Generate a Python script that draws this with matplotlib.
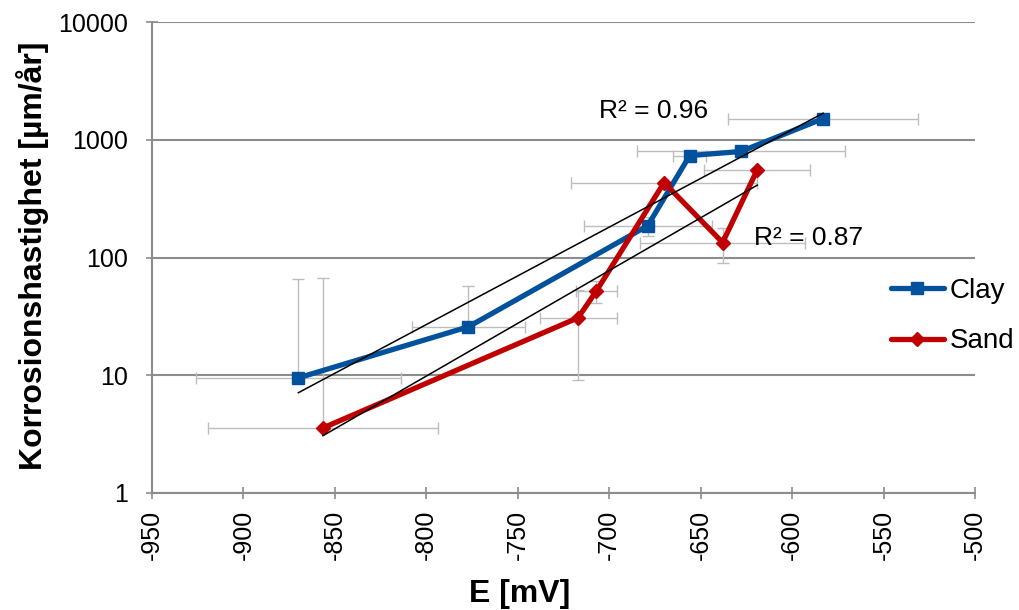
import numpy as np
import matplotlib
matplotlib.use("Agg")
import matplotlib.pyplot as plt
from matplotlib.lines import Line2D

# ---- data ----
clay_E = [-870, -777, -679, -656, -628, -583]
clay_rate = [9.5, 25.8, 186, 734, 795, 1513]
clay_xerr = [56, 31, 35, 9, 57, 52]
clay_yerr_lo = [0, 0, 33, 0, 0, 0]
clay_yerr_hi = [56, 31, 33, 0, 0, 0]

sand_E = [-856.5, -717, -707, -670, -638, -619]
sand_rate = [3.57, 30.8, 52, 433, 134, 558]
sand_xerr = [63, 21, 11, 51, 45, 29]
sand_yerr_lo = [0, 21.7, 11, 0, 45, 0]
sand_yerr_hi = [64, 21.7, 11, 0, 45, 0]

x_ticks = [-950, -900, -850, -800, -750, -700, -650, -600, -550, -500]
y_ticks = [1, 10, 100, 1000, 10000]
clay_r2_label = "R² = 0.96"
sand_r2_label = "R² = 0.87"

# ---- style ----
plt.rcParams['font.family'] = ['Liberation Sans', 'DejaVu Sans']
CLAY = '#02519c'
SAND = '#c00000'
GRID = '#8c8c8c'
ERR = '#bdbdbd'

fig = plt.figure(figsize=(10.19, 6.10), dpi=100)
ax = fig.add_axes([152/1019, 1-493/610, (975-152)/1019, (493-22)/610])
ax.set_yscale('log')
ax.set_xlim(-950, -500)
ax.set_ylim(1, 10000)

for E, r, xe, lo, hi in [(clay_E, clay_rate, clay_xerr, clay_yerr_lo, clay_yerr_hi),
                         (sand_E, sand_rate, sand_xerr, sand_yerr_lo, sand_yerr_hi)]:
    ax.errorbar(E, r, xerr=xe, yerr=[lo, hi], fmt='none', ecolor=ERR,
                elinewidth=1.0, capsize=4, capthick=1.0, zorder=2)

ax.plot(clay_E, clay_rate, color=CLAY, lw=3.8, marker='s', ms=9,
        solid_capstyle='round', zorder=3)
ax.plot(sand_E, sand_rate, color=SAND, lw=3.8, marker='D', ms=7,
        solid_capstyle='round', zorder=3)

# exponential trendlines (fit on log of rate)
for E, r in [(clay_E, clay_rate), (sand_E, sand_rate)]:
    E = np.array(E, dtype=float)
    b, a = np.polyfit(E, np.log(np.array(r, dtype=float)), 1)
    xs = np.linspace(E.min(), E.max(), 50)
    ax.plot(xs, np.exp(a + b * xs), color='black', lw=1.1, zorder=4)

ax.text(-676, 1771, clay_r2_label, fontsize=19, ha='center', va='center', zorder=5)
ax.text(-591, 147, sand_r2_label, fontsize=19, ha='center', va='center', zorder=5)

ax.set_xticks(x_ticks)
ax.set_xticklabels([str(t) for t in x_ticks], rotation=90, fontsize=18)
ax.set_yticks(y_ticks)
ax.set_yticklabels([str(t) for t in y_ticks], fontsize=18)
ax.yaxis.set_minor_locator(matplotlib.ticker.NullLocator())
ax.tick_params(axis='both', direction='inout', length=8, width=1.2, color=GRID)
ax.tick_params(axis='x', pad=8)
ax.tick_params(axis='y', pad=13)

ax.grid(axis='y', which='major', color=GRID, lw=1.5, zorder=0)
ax.set_axisbelow(True)
for s in ['top', 'right']:
    ax.spines[s].set_visible(False)
for s in ['left', 'bottom']:
    ax.spines[s].set_color(GRID)
    ax.spines[s].set_linewidth(1.5)

ax.set_xlabel('E [mV]', fontsize=23, fontweight='bold', labelpad=4)
ax.set_ylabel('Korrosionshastighet [µm/år]', fontsize=23, fontweight='bold', labelpad=4)
ax.xaxis.set_label_coords((520-152)/(975-152), -(594-493)/(493-22))
ax.yaxis.set_label_coords(-(152-32)/(975-152), (493-256)/(493-22))
ax.xaxis.label.set_va('center')
ax.yaxis.label.set_va('center')

handles = [Line2D([], [], color=CLAY, lw=3.8, marker='s', ms=9, solid_capstyle='round'),
           Line2D([], [], color=SAND, lw=3.8, marker='D', ms=7, solid_capstyle='round')]
fig.legend(handles, ['Clay', 'Sand'], loc='center left', bbox_to_anchor=(866/1019, 1-316/610),
           frameon=False, fontsize=20, handlelength=1.9, labelspacing=0.9, handletextpad=0.2)

fig.savefig('out.png', dpi=100)
